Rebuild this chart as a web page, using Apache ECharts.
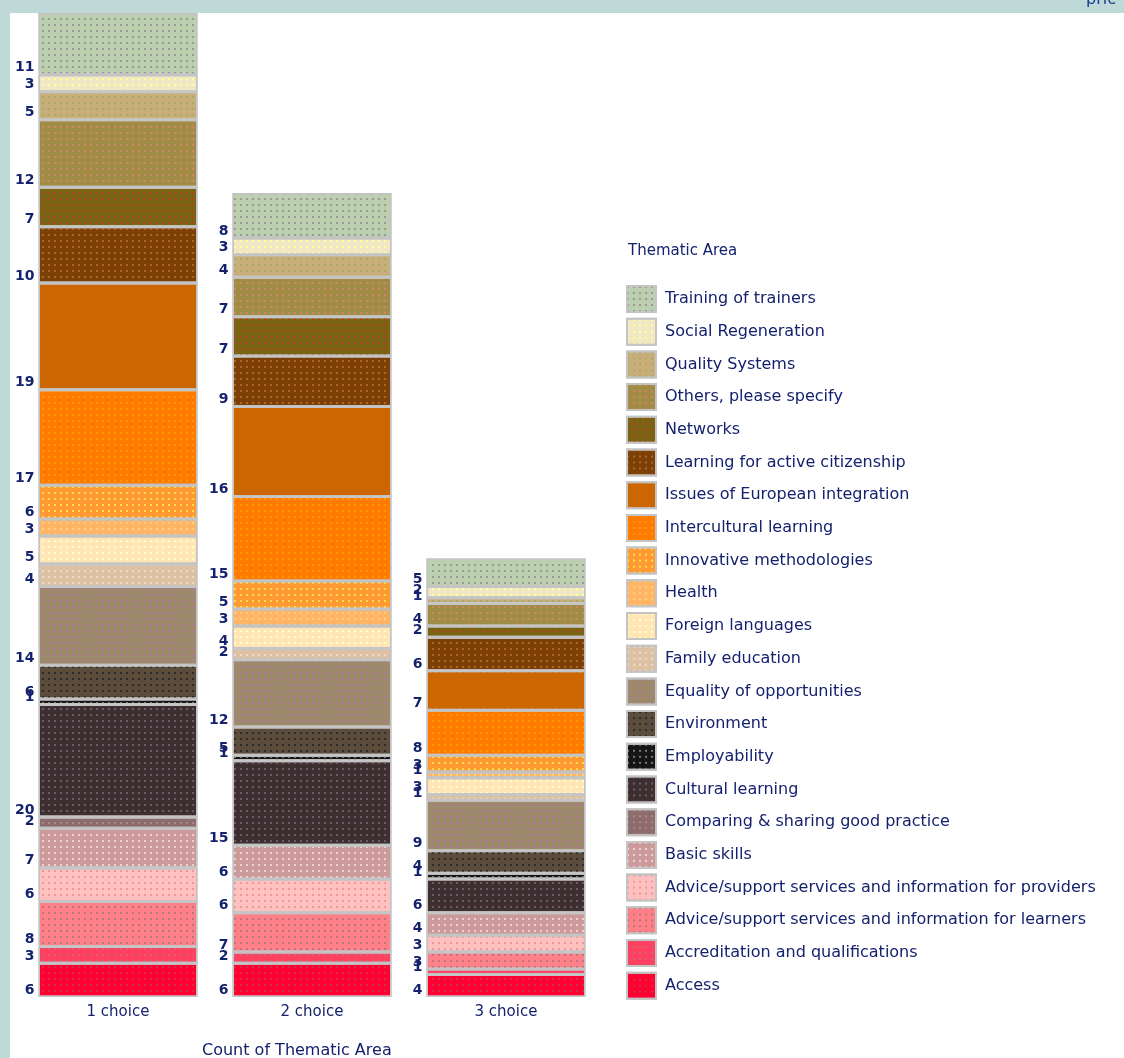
<!DOCTYPE html>
<html style="height: 100%">
<head>
<meta charset="utf-8">
</head>
<body style="height: 100%; margin: 0">
	<div id="container" style="width: 1124px; height: 1058px"></div>
	<script type="text/javascript" src="https://cdn.jsdelivr.net/npm/echarts@6/dist/echarts.min.js"></script>
	<script type="text/javascript">
		var categories = ['1 choice', '2 choice', '3 choice'];
		// stack order, bottom to top
		var areas = ['Access', 'Accreditation and qualifications',
			'Advice/support services and information for learners',
			'Advice/support services and information for providers',
			'Basic skills', 'Comparing & sharing good practice', 'Cultural learning',
			'Employability', 'Environment', 'Equality of opportunities', 'Family education',
			'Foreign languages', 'Health', 'Innovative methodologies', 'Intercultural learning',
			'Issues of European integration', 'Learning for active citizenship', 'Networks',
			'Others, please specify', 'Quality Systems', 'Social Regeneration', 'Training of trainers'];
		var choice1 = [6, 3, 8, 6, 7, 2, 20, 1, 6, 14, 4, 5, 3, 6, 17, 19, 10, 7, 12, 5, 3, 11];
		var choice2 = [6, 2, 7, 6, 6, 0, 15, 1, 5, 12, 2, 4, 3, 5, 15, 16, 9, 7, 7, 4, 3, 8];
		var choice3 = [4, 1, 3, 3, 4, 0, 6, 1, 4, 9, 1, 3, 1, 3, 8, 7, 6, 2, 4, 1, 2, 5];

		var colors = ['#ff0033', '#ff4060', '#ff8088', '#ffc0c0', '#cc9a9a', '#8c6c6c', '#3d2e30',
			'#161414', '#5c4c3c', '#9c8a6a', '#dcc2a2', '#ffe6b4', '#ffb466', '#ff9933', '#ff7a00',
			'#cc6600', '#7c4006', '#7a6414', '#a08c44', '#c8ae78', '#f0e8c4', '#bccfae'];
		var dots = ['#cc3344', '#cc6677', '#bb7777', '#ee9999', '#eed0d0', '#aa8888', '#6a5a6a',
			'#777777', '#2c2c2c', '#b07898', '#f0d8c8', '#ffffcc', '#ffd080', '#ffdd44', '#ff9900',
			'#cc6600', '#aa6622', '#aa4422', '#cc8866', '#aaaa66', '#ffff99', '#999999'];

		var dom = document.getElementById("container");
		var myChart = echarts.init(dom);
		var navy = '#14226e';
		var font = 'DejaVu Sans';

		var series = [];
		for (var i = 0; i < areas.length; i++) {
			var vals = [choice1[i], choice2[i], choice3[i]];
			series.push({
				name : areas[i],
				type : 'bar',
				stack : 'total',
				barWidth : 159,
				data : vals.map(function(v) { return v === 0 ? '-' : v; }),
				itemStyle : {
					color : colors[i],
					borderColor : '#c4c4c4',
					borderWidth : 1.5,
					decal : {
						symbol : 'rect',
						symbolSize : 1,
						dashArrayX : [1.5, 4],
						dashArrayY : [1.5, 4],
						color : dots[i]
					}
				},
				label : {
					show : true,
					position : [-4, '100%'],
					align : 'right',
					verticalAlign : 'bottom',
					color : navy,
					fontFamily : font,
					fontWeight : 'bold',
					fontSize : 14,
					lineHeight : 14
				},
				emphasis : { disabled : true }
			});
		}

		var option = {
			backgroundColor : '#ffffff',
			animation : false,
			grid : { left : 21, right : 521, top : 13, bottom : 61 },
			xAxis : {
				type : 'category',
				data : categories,
				axisLine : { show : false },
				axisTick : { show : false },
				axisLabel : { margin : 8, color : navy, fontFamily : font, fontSize : 15 }
			},
			yAxis : { type : 'value', min : 0, max : 175, show : false },
			legend : {
				orient : 'vertical',
				left : 626,
				top : 285,
				padding : 0,
				icon : 'rect',
				itemWidth : 29,
				itemHeight : 26,
				itemGap : 4.7,
				selectedMode : false,
				data : areas.slice().reverse(),
				textStyle : { color : navy, fontFamily : font, fontSize : 16, padding : [0, 0, 0, 4] }
			},
			graphic : [
				{ type : 'rect', shape : { x : 0, y : 0, width : 10, height : 1058 }, style : { fill : '#bfd9d9' } },
				{ type : 'rect', shape : { x : 0, y : 0, width : 1124, height : 13 }, style : { fill : '#bfd9d9' } },
				{ type : 'text', left : 1086, top : -8, style : { text : 'pric', fill : '#1a3c8c', font : '16px DejaVu Sans' } },
				{ type : 'text', left : 628, top : 244, style : { text : 'Thematic Area', fill : navy, font : '15px DejaVu Sans' } },
				{ type : 'text', left : 202, top : 1043, style : { text : 'Count of Thematic Area', fill : navy, font : '16px DejaVu Sans' } }
			],
			series : series
		};
		myChart.setOption(option, true);
	</script>
</body>
</html>
